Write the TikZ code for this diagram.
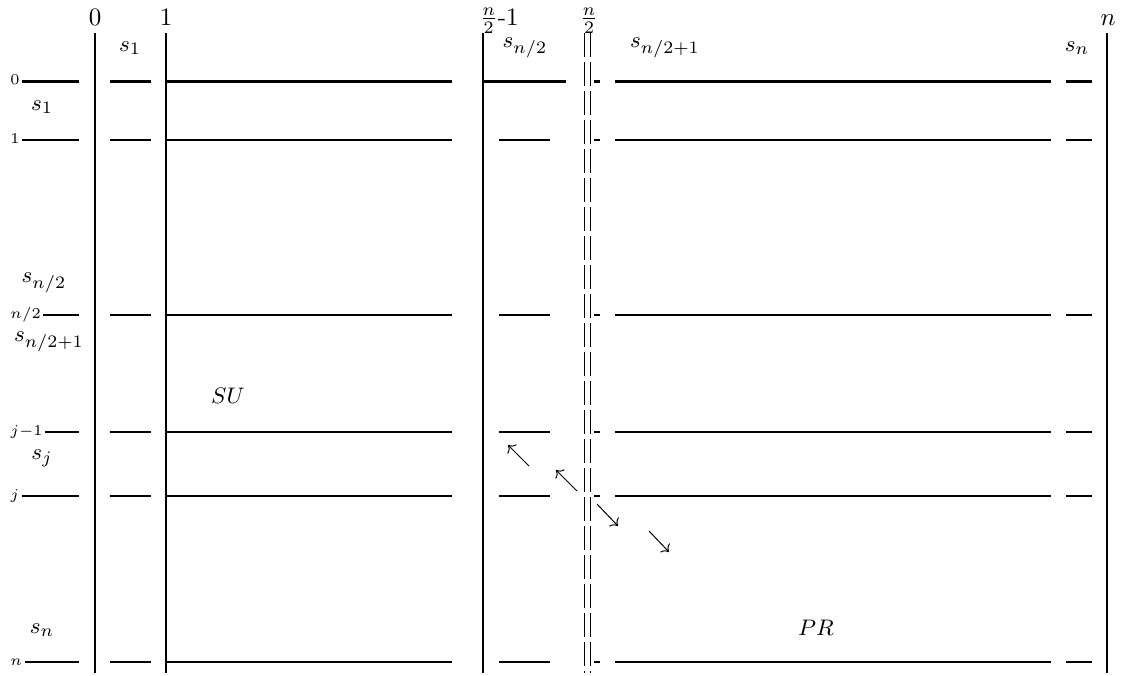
\documentclass[tikz,border=0pt]{standalone}
\usetikzlibrary{arrows.meta}
% one grid row: left label, then the broken horizontal rule across all columns
\newcommand\gridrow[4]{%
  \node[rowlab] (#1) at (8,{#2+3}) {$#3$};
  \draw[#4] (#1.east |- 79,#2) -- (79,#2);
  \draw[#4] (110,#2) -- (151,#2);
  \draw[#4] (166,#2) -- (452,#2);
  \draw[#4] (594,#2) -- (600,#2);
  \draw[#4] (615,#2) -- (1051,#2);
  \draw[#4] (1066,#2) -- (1092,#2);
}
\begin{document}
\begin{tikzpicture}[x=0.4pt,y=-0.4pt,
  rowlab/.style={anchor=base west,inner sep=0.8pt,font=\fontsize{6.5}{7}\selectfont},
  collab/.style={anchor=base,inner sep=0pt,font=\fontsize{10}{12}\selectfont},
  slab/.style={inner sep=0pt,font=\fontsize{9.5}{11}\selectfont},
  heavy/.style={line width=1.2pt},
  rule/.style={line width=0.85pt},
  bar/.style={line width=0.85pt},
  heavybar/.style={line width=1.15pt},
  splitbar/.style={line width=0.45pt,dash pattern=on 9.6pt off 2pt},
  flow/.style={line width=0.4pt,-{To}}]
\useasboundingbox (0,0) rectangle (1125,675);

% column headings
\node[collab] (c0) at (95,25) {$0$};
\node[collab] (c1) at (166,25) {$1$};
\node[collab,anchor=base west] (chm) at (479,25) {$\frac{n}{2}$-1};
\node[collab] (ch) at (589,25) {$\frac{n}{2}$};
\node[collab] (cn) at (1108,25) {$n$};

% vertical separators
\draw[bar] (95,33) -- (95,673);
\draw[heavybar] (166,33) -- (166,673);
\draw[bar] (483,33) -- (483,673);
\draw[splitbar] (584.5,33) -- (584.5,673);
\draw[splitbar] (590.5,33) -- (590.5,673);
\draw[line width=1pt] (1107,33) -- (1107,673);

% rows
\gridrow{r0}{81}{0}{heavy}
\draw[heavy] (483,81) -- (566,81);
\gridrow{r1}{140}{1}{rule}
\draw[rule] (499,140) -- (550,140);
\gridrow{rh}{315}{n/2}{rule}
\draw[rule] (499,315) -- (550,315);
\gridrow{rj1}{432}{j{-}1}{rule}
\draw[rule] (499,432) -- (550,432);
\gridrow{rj}{496}{j}{rule}
\draw[rule] (499,496) -- (550,496);
\gridrow{rn}{662}{n}{rule}
\draw[rule] (499,662) -- (550,662);

% block labels along the top
\node[slab] (t1) at (130,48) {$s_1$};
\node[slab] (th) at (525,48) {$s_{n/2}$};
\node[slab] (th1) at (665,48) {$s_{n/2+1}$};
\node[slab] (tn) at (1077,48) {$s_n$};

% block labels down the left side
\node[slab] (l1) at (42,107) {$s_1$};
\node[slab] (lh) at (44,283) {$s_{n/2}$};
\node[slab] (lh1) at (49,342) {$s_{n/2+1}$};
\node[slab] (lj) at (42,458) {$s_j$};
\node[slab] (ln) at (42,630) {$s_n$};

% region names
\node[slab] (su) at (228,396) {$SU$};
\node[slab] (pr) at (816,628) {$PR$};

% diagonal arrows
\coordinate (a1s) at (529,466); \coordinate (a1e) at (508,445);
\coordinate (a2s) at (577,491); \coordinate (a2e) at (556,470);
\coordinate (a3s) at (597,504); \coordinate (a3e) at (618,526);
\coordinate (a4s) at (649,531); \coordinate (a4e) at (669,552);
\draw[flow] (a1s) -- (a1e);
\draw[flow] (a2s) -- (a2e);
\draw[flow] (a3s) -- (a3e);
\draw[flow] (a4s) -- (a4e);
\end{tikzpicture}
\end{document}
